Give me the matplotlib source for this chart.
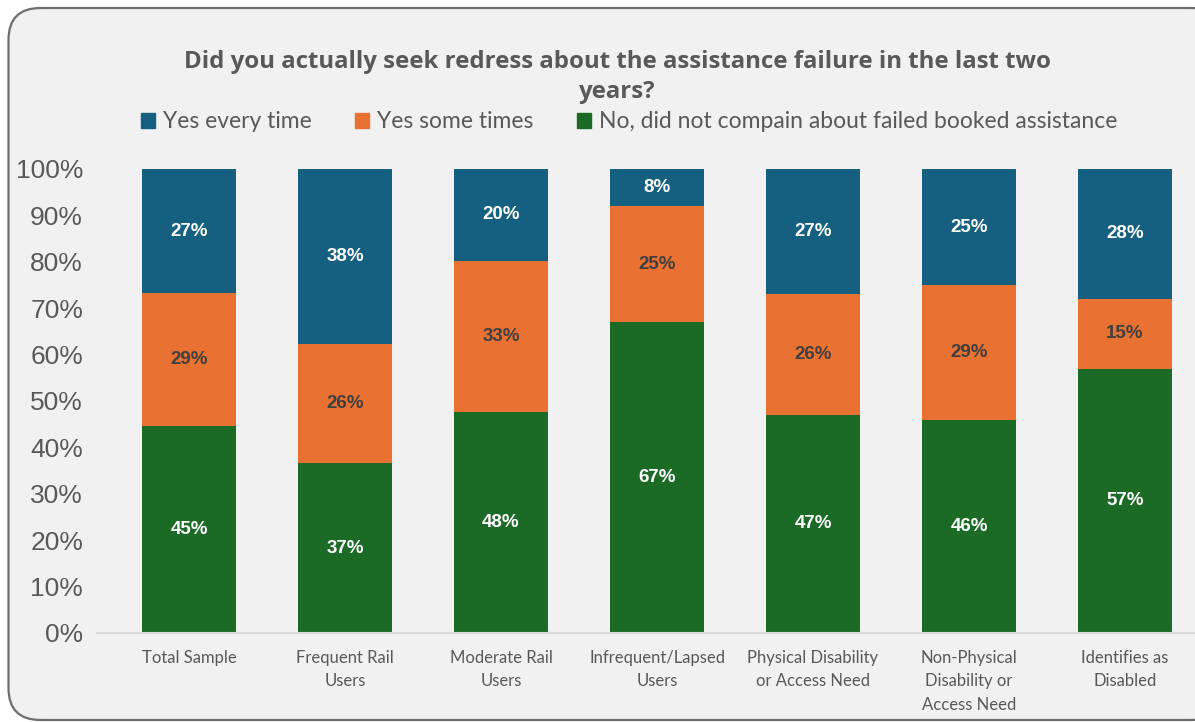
import matplotlib.pyplot as plt
import numpy as np
from matplotlib.patches import FancyBboxPatch, Patch

categories = ["Total Sample", "Frequent Rail\nUsers", "Moderate Rail\nUsers",
              "Infrequent/Lapsed\nUsers", "Physical Disability\nor Access Need",
              "Non-Physical\nDisability or\nAccess Need", "Identifies as\nDisabled"]
series_names = ["Yes every time", "Yes some times",
                "No, did not compain about failed booked assistance"]
every_time = [27, 38, 20, 8, 27, 25, 28]
some_times = [29, 26, 33, 25, 26, 29, 15]
no_complaint = [45, 37, 48, 67, 47, 46, 57]

c_blue = "#155f80"
c_orange = "#e97132"
c_green = "#1b6b26"
bg = "#f1f1f1"
txt = "#595959"

plt.rcParams["font.family"] = ["Lato", "DejaVu Sans"]

W, H = 11.95, 7.22
fig = plt.figure(figsize=(W, H), dpi=100)
fig.patch.set_facecolor("white")

# rounded chart frame (inch coordinates so the corners stay circular)
frame = FancyBboxPatch((0.085, 0.02), W + 0.2, H - 0.10,
                       boxstyle="round,pad=0,rounding_size=0.32",
                       transform=fig.dpi_scale_trans, facecolor=bg,
                       edgecolor="#6e6e6e", linewidth=1.6, zorder=-5)
fig.patches.append(frame)

ax = fig.add_axes([97 / 1195, 1 - 633 / 722, (1195 - 97) / 1195, 464 / 722])
ax.set_facecolor("none")

# 100% stacked: normalise each column to its total
data = np.array([no_complaint, some_times, every_time], dtype=float)
shares = data / data.sum(axis=0) * 100
colors = [c_green, c_orange, c_blue]
label_colors = ["white", "#404040", "white"]

x = np.arange(len(categories))
bottom = np.zeros(len(categories))
for vals, shr, col, lc in zip(data, shares, colors, label_colors):
    ax.bar(x, shr, bottom=bottom, width=0.6, color=col, zorder=2)
    for xi, b, s, v in zip(x, bottom, shr, vals):
        ax.text(xi, b + s / 2, f"{v:.0f}%", ha="center", va="center",
                color=lc, fontsize=13.5, fontweight="bold",
                family="Liberation Sans", zorder=3)
    bottom += shr

ax.set_xlim(-0.59, (1195 - 189) / 156)
ax.set_ylim(0, 100)
ax.set_yticks(np.arange(0, 101, 10))
ax.set_yticklabels([f"{v}%" for v in range(0, 101, 10)],
                   fontsize=19, color=txt, family="Liberation Sans")
ax.set_xticks(x)
ax.set_xticklabels(categories, fontsize=12, color=txt, linespacing=1.6, va="top")
ax.tick_params(length=0)
ax.tick_params(axis="y", pad=10)
ax.tick_params(axis="x", pad=12)
for side in ["top", "right", "left"]:
    ax.spines[side].set_visible(False)
ax.spines["bottom"].set_color("#d9d9d9")
ax.spines["bottom"].set_linewidth(1.5)

fig.text(617 / 1195, 1 - 77 / 722,
         "Did you actually seek redress about the assistance failure in the last two\nyears?",
         ha="center", va="center", fontsize=17.3, fontweight="bold", color=txt,
         family="Open Sans", linespacing=1.35)

handles = [Patch(color=c) for c in [c_blue, c_orange, c_green]]
fig.legend(handles, series_names, loc="center", bbox_to_anchor=(629 / 1195, 1 - 122 / 722),
           ncol=3, frameon=False, fontsize=16.5, labelcolor=txt,
           handlelength=0.6, handleheight=0.6, handletextpad=0.35,
           columnspacing=1.9)

fig.savefig("out.png", dpi=100, facecolor="white")
